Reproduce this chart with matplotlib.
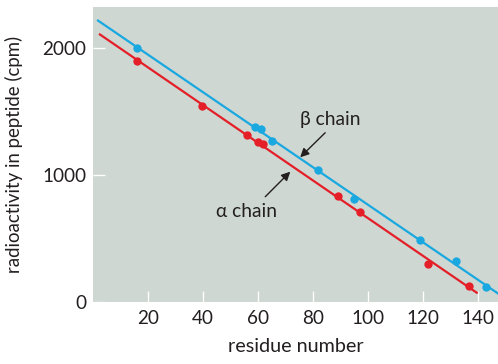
import numpy as np
import matplotlib
matplotlib.use("Agg")
import matplotlib.pyplot as plt

# residue number vs. radioactivity for the two globin chains
beta_residue = [16, 59, 61, 65, 82, 95, 119, 132, 143]
beta_cpm = [2000, 1375, 1360, 1270, 1040, 810, 490, 320, 115]
alpha_residue = [16, 39.5, 56, 60, 62, 89, 97, 122, 137]
alpha_cpm = [1895, 1545, 1315, 1260, 1240, 835, 710, 300, 125]

x_ticks = [20, 40, 60, 80, 100, 120, 140]
y_ticks = [0, 1000, 2000]

BLUE = "#1aa8e0"
RED = "#e41f28"
BG = "#ced7d2"
INK = "#231f20"

plt.rcParams["font.family"] = ["Lato", "DejaVu Sans"]

fig = plt.figure(figsize=(4.98, 3.64), dpi=100)
ax = fig.add_axes([0.1867, 0.1703, 0.8133, 0.8105])
ax.set_facecolor(BG)
for s in ax.spines.values():
    s.set_visible(False)

# least-squares lines through each chain's points
def fit_line(xs, ys, x0, x1):
    k, b = np.polyfit(xs, ys, 1)
    xx = np.array([x0, x1])
    return xx, k * xx + b

bx, by = fit_line(beta_residue, beta_cpm, 1.5, 150)
ax_, ay = fit_line(alpha_residue, alpha_cpm, 2.2, 140)

ax.plot(bx, by, color=BLUE, lw=1.6, solid_capstyle="butt", zorder=2)
ax.plot(ax_, ay, color=RED, lw=1.6, solid_capstyle="butt", zorder=2)
ax.plot(beta_residue, beta_cpm, "o", color=BLUE, ms=6, mec="none", zorder=3)
ax.plot(alpha_residue, alpha_cpm, "o", color=RED, ms=6, mec="none", zorder=3)

ax.set_xlim(0, 147.4)
ax.set_ylim(0, 2320)
ax.set_xticks(x_ticks)
ax.set_yticks(y_ticks)
ax.tick_params(axis="both", direction="in", color="white", width=1.0,
               labelsize=13.6, labelcolor=INK)
ax.tick_params(axis="x", length=8, pad=6)
ax.tick_params(axis="y", length=8.5, pad=5)

ax.set_xlabel("residue number", fontsize=14.2, color=INK, labelpad=8)
ax.set_ylabel("radioactivity in peptide (cpm)", fontsize=13.4,
              color=INK, labelpad=14)

arrow = dict(arrowstyle="-|>", color=INK, lw=1.0, mutation_scale=13,
             shrinkA=0, shrinkB=0)
ax.annotate("", xy=(75.4, 1138), xytext=(84.5, 1331), arrowprops=arrow)
ax.annotate("", xy=(71.8, 1025), xytext=(62.7, 828), arrowprops=arrow)
ax.text(86.3, 1439, "β chain", fontsize=13.8, color=INK,
        ha="center", va="center")
ax.text(56, 710, "α chain", fontsize=13.8, color=INK,
        ha="center", va="center")

fig.savefig("out.png", dpi=100)
